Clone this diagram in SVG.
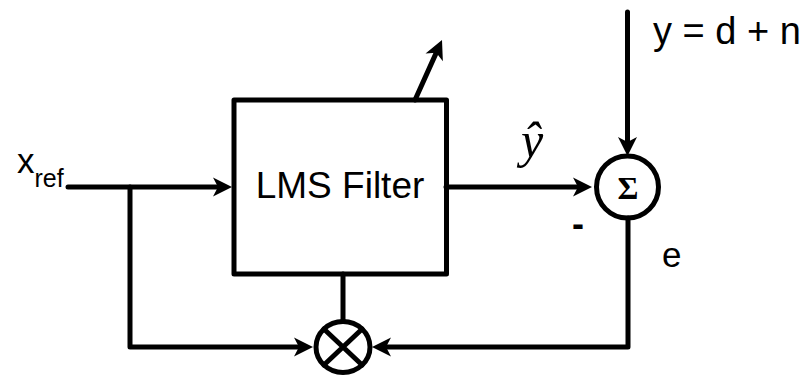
<svg xmlns="http://www.w3.org/2000/svg" width="804" height="376" viewBox="0 0 804 376">
<style>
.ln{fill:none;stroke:#000;stroke-width:5;stroke-linejoin:round;stroke-linecap:round}
.arr{marker-end:url(#ah)}
.sans{font-family:"Liberation Sans",Arial,sans-serif;fill:#000}
.serif{font-family:"Liberation Serif","Times New Roman",serif;fill:#000}
</style>
<defs>
<marker id="ah" markerUnits="userSpaceOnUse" markerWidth="40" markerHeight="40" refX="0" refY="0" orient="auto" overflow="visible" viewBox="-20 -20 40 40">
<path d="M10,0 L-9,-9.5 L-4,0 L-9,9.5 Z" fill="#000"/>
</marker>
</defs>
<rect width="804" height="376" fill="#fff"/>
<g id="connectors">
<path class="ln arr" d="M68,187 H222"/>
<path class="ln arr" d="M130,187 V347 H303"/>
<path class="ln arr" d="M628,218 V347 H382"/>
<path class="ln" d="M343,274 V321"/>
<path class="ln arr" d="M446,187 H582"/>
<path class="ln arr" d="M627.5,12 V146"/>
<path class="ln arr" d="M415,100 L437.9,49.1"/>
</g>
<g id="lms-filter">
<rect class="ln" x="234" y="100" width="212.5" height="174" fill="#fff"/>
<text class="sans" x="340" y="198" font-size="37" text-anchor="middle">LMS Filter</text>
</g>
<g id="sum">
<circle class="ln" cx="627.5" cy="187" r="31" fill="#fff"/>
<text class="serif" x="628" y="199" font-size="32" font-weight="bold" text-anchor="middle">Σ</text>
</g>
<g id="multiplier">
<ellipse class="ln" cx="343" cy="347" rx="27" ry="25.5" fill="#fff"/>
<path class="ln" d="M323.9,329 L362.1,365 M362.1,329 L323.9,365" stroke-linecap="butt"/>
</g>
<g id="labels">
<text class="sans" x="17" y="173" font-size="35">x<tspan y="187" font-size="25">ref</tspan></text>
<text class="serif" x="532" y="157" font-size="50" font-style="italic" text-anchor="middle">ŷ</text>
<text class="sans" x="653" y="44" font-size="38">y = d + n</text>
<text class="sans" x="578" y="236" font-size="36" font-weight="bold" text-anchor="middle">-</text>
<text class="sans" x="662" y="267" font-size="35">e</text>
</g>
</svg>
